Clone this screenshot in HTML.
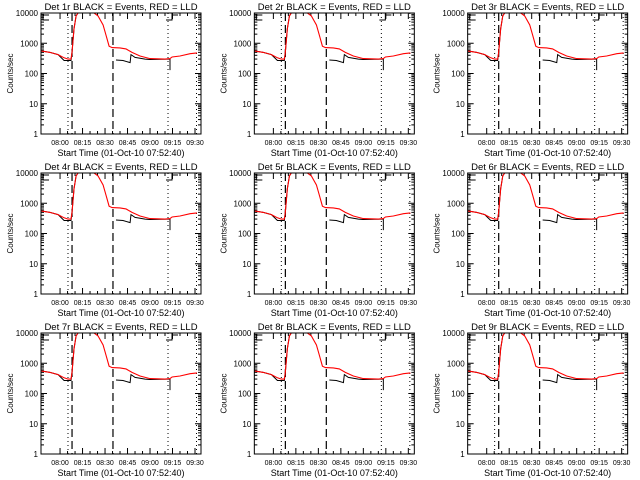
<!DOCTYPE html>
<html><head><meta charset="utf-8"><style>
html,body{margin:0;padding:0;background:#fff;}
svg{display:block;}
</style></head><body>
<svg id="chart" width="640" height="480" viewBox="0 0 640 480" xmlns="http://www.w3.org/2000/svg" font-family="Liberation Sans, sans-serif" font-size="9.5" fill="#000"></svg>
<script>
// minutes after 08:00
const detectors = ["1r","2r","3r","4r","5r","6r","7r","8r","9r"];
const yTickValues = [1,10,100,1000,10000];
const yTickLabels = ["1","10","100","1000","10000"];
const xTickMinutes = [0,15,30,45,60,75,90];
const xTickLabels = ["08:00","08:15","08:30","08:45","09:00","09:15","09:30"];
const redTimes = [-12.7,-6.7,-1.3,2.7,5.3,7.3,8,9.3,10.7,12,13.3,22.7,25.3,28.7,30.7,32.7,34.7,40,44,48,53.3,60,70,73.3,74.7,80,86.7,91.3];
const redValues = [560,500,420,330,300,300,500,3000,8000,11000,13000,12000,8000,4000,1800,800,720,700,650,500,380,310,300,310,350,380,450,480];
const blackTimes1 = [-12.7,-6.7,-1.3,2.7,5.3,7.3,8,9.3,10.7,12];
const blackValues1 = [560,500,420,270,270,270,500,3000,8000,11000];
const blackTimes2 = [37.3,42,46.7,47.3,50,56.7,60,72.7,73.3,73.3];
const blackValues2 = [280,270,230,420,340,300,290,300,300,130];
const dottedMinutes = [5.3,72,91];
const dashedMinutes = [8,35.3];

const svg = document.getElementById('chart');
const NS = "http://www.w3.org/2000/svg";
function mk(tag, attrs, parent){const e=document.createElementNS(NS,tag);for(const k in attrs)e.setAttribute(k,attrs[k]);parent.appendChild(e);return e;}

const PW=160, PH=121, X0=41, Y0=13;
const tMin=-12.7, tMax=94;
function xs(t){return X0 + (t - tMin)/(tMax - tMin)*PW;}
function ys(v){v=Math.min(Math.max(v,1),10000);return Y0+PH - Math.log10(v)/4*PH;}
function path(ts,vs){return ts.map((t,i)=>(i?'L':'M')+xs(t).toFixed(1)+','+ys(vs[i]).toFixed(1)).join('');}

detectors.forEach((d,i)=>{
  const g = mk('g',{transform:`translate(${(i%3)*213.33},${Math.floor(i/3)*160})`},svg);
  
  
  const clip = mk('clipPath',{id:'c'+i},g);
  mk('rect',{x:X0,y:Y0,width:PW,height:PH},clip);
  const title = mk('text',{x:X0+PW/2,y:10,'text-anchor':'middle','font-size':'9.5'},g);
  title.textContent = `Det ${d} BLACK = Events, RED = LLD`;
  
  
  const yt = mk('text',{x:0,y:0,'text-anchor':'middle',transform:`translate(13,${Y0+PH/2}) rotate(-90)`,'font-size':'8'},g);
  yt.textContent='Counts/sec';
  
  
  const xt = mk('text',{x:X0+PW/2,y:Y0+PH+22,'text-anchor':'middle','font-size':'9'},g);
  xt.textContent='Start Time (01-Oct-10 07:52:40)';
  
  
  yTickValues.forEach((v,k)=>{
    const y=ys(v);
    mk('line',{x1:X0,x2:X0+6,y1:y,y2:y,stroke:'#000'},g);
    mk('line',{x1:X0+PW-6,x2:X0+PW,y1:y,y2:y,stroke:'#000'},g);
    const tl=mk('text',{x:X0-3,y:y+3,'text-anchor':'end','font-size':'8'},g);
    tl.textContent=yTickLabels[k];
    
    
    if(v<10000) for(let m=2;m<10;m++){const yy=ys(v*m);
      mk('line',{x1:X0,x2:X0+3,y1:yy,y2:yy,stroke:'#000'},g);
      mk('line',{x1:X0+PW-3,x2:X0+PW,y1:yy,y2:yy,stroke:'#000'},g);}
  });
  xTickMinutes.forEach((t,k)=>{
    const x=xs(t);
    mk('line',{x1:x,x2:x,y1:Y0+PH,y2:Y0+PH-6,stroke:'#000'},g);
    mk('line',{x1:x,x2:x,y1:Y0,y2:Y0+6,stroke:'#000'},g);
    const tl=mk('text',{x:x,y:Y0+PH+11,'text-anchor':'middle','font-size':'7'},g);
    tl.textContent=xTickLabels[k];
    
    
    for(let m=5;m<15;m+=5){const xx=xs(t+m); if(xx<X0+PW){
      mk('line',{x1:xx,x2:xx,y1:Y0+PH,y2:Y0+PH-3,stroke:'#000'},g);
      mk('line',{x1:xx,x2:xx,y1:Y0,y2:Y0+3,stroke:'#000'},g);}}
  });
  dottedMinutes.forEach(t=>{const l=mk('line',{x1:xs(t),x2:xs(t),y1:Y0,y2:Y0+PH,stroke:'#000','stroke-dasharray':'1,3'},g);
    });
  dashedMinutes.forEach(t=>{const l=mk('line',{x1:xs(t),x2:xs(t),y1:Y0,y2:Y0+PH,stroke:'#000','stroke-dasharray':'8,4','stroke-width':1.2},g);
    });
  mk('path',{d:`M${X0+8},${Y0+2}H${X0+2}V${Y0+7}H${X0+8}`,fill:'none',stroke:'#000'},g);
  mk('path',{d:`M${xs(72)+10},${Y0+2}H${xs(72)+4}V${Y0+7}H${xs(72)-2}`,fill:'none',stroke:'#000'},g);
  mk('path',{d:`M${xs(72)+4},${Y0}V${Y0+2}`,fill:'none',stroke:'#000'},g);
  const cg=mk('g',{'clip-path':`url(#c${i})`},g);
  const b1=mk('path',{d:path(blackTimes1,blackValues1),fill:'none',stroke:'#000','stroke-width':1},cg);
  
  const b2=mk('path',{d:path(blackTimes2,blackValues2),fill:'none',stroke:'#000','stroke-width':1},cg);
  
  const r=mk('path',{d:path(redTimes,redValues),fill:'none',stroke:'#f00','stroke-width':1.1},cg);
  
  const box=mk('rect',{x:X0,y:Y0,width:PW,height:PH,fill:'none',stroke:'#000'},g);
  
});
</script>
</body></html>
